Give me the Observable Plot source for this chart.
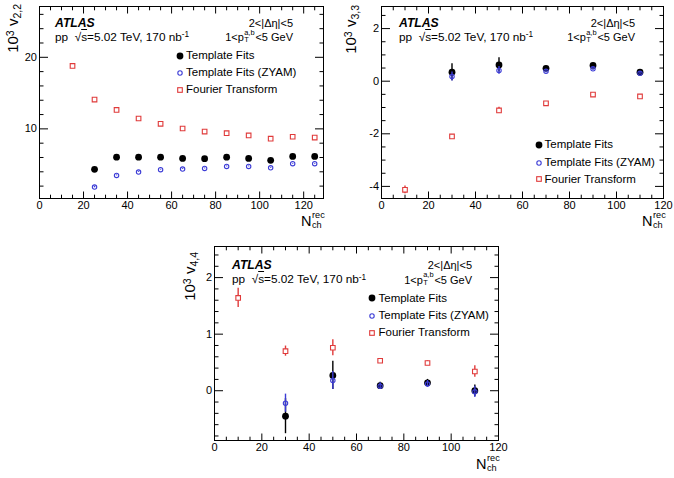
<!DOCTYPE html>
<html><head><meta charset="utf-8">
<script src="https://cdn.jsdelivr.net/npm/d3@7"></script>
<script src="https://cdn.jsdelivr.net/npm/@observablehq/plot@0.6"></script>
<style>
body{margin:0;background:#fff;font-family:"Liberation Sans",Arial,sans-serif;}
#c{position:relative;width:674px;height:478px;overflow:hidden;background:#fff;}
.p{position:absolute;}
.t{position:absolute;white-space:nowrap;color:#000;line-height:1;}
.sup{position:relative;top:-0.42em;font-size:0.7em;}
.sub{position:relative;top:0.3em;font-size:0.7em;}
.stk{display:inline-block;position:relative;height:1em;vertical-align:top;}
.stk .a{position:absolute;left:0.05em;top:-0.45em;font-size:0.68em;line-height:1;}
.stk .b{position:absolute;left:0.05em;top:0.55em;font-size:0.68em;line-height:1;}
.ol{text-decoration:overline;}
</style></head><body><div id="c"></div>
<script>
// ---------------- data ----------------
// v2,2 panel
const nch22FT = [15, 25, 35, 45, 55, 65, 75, 85, 95, 105, 115, 125];
const v22FT   = [18.8, 14.1, 12.65, 11.45, 10.7, 10.05, 9.62, 9.4, 9.08, 8.63, 8.9, 8.78];
const e22FT   = [0.1, 0.08, 0.06, 0.06, 0.06, 0.06, 0.06, 0.06, 0.06, 0.06, 0.06, 0.06];
const nch22TF = [25, 35, 45, 55, 65, 75, 85, 95, 105, 115, 125];
const v22TF   = [4.34, 6.05, 6.05, 6.05, 5.87, 5.83, 6.05, 5.87, 5.6, 6.15, 6.15];
const e22TF   = [0.1, 0.08, 0.08, 0.08, 0.08, 0.08, 0.08, 0.08, 0.08, 0.08, 0.08];
const v22ZY   = [1.87, 3.5, 3.96, 4.3, 4.38, 4.47, 4.75, 4.75, 4.56, 5.13, 5.13];
const e22ZY   = [0.1, 0.06, 0.06, 0.06, 0.06, 0.06, 0.06, 0.06, 0.06, 0.06, 0.06];
// v3,3 panel
const nch33FT = [10, 30, 50, 70, 90, 110];
const v33FT   = [-4.13, -2.1, -1.11, -0.84, -0.51, -0.58];
const e33FT   = [0.15, 0.06, 0.12, 0.05, 0.04, 0.05];
const nch33TF = [30, 50, 70, 90, 110];
const v33TF   = [0.34, 0.62, 0.49, 0.6, 0.34];
const e33TF   = [0.32, 0.27, 0.08, 0.08, 0.07];
const v33ZY   = [0.18, 0.41, 0.38, 0.47, 0.3];
const e33ZY   = [0.17, 0.15, 0.06, 0.06, 0.06];
// v4,4 panel
const nch44FT = [10, 30, 50, 70, 90, 110];
const v44FT   = [1.64, 0.7, 0.76, 0.53, 0.49, 0.34];
const e44FT   = [0.17, 0.09, 0.14, 0.03, 0.04, 0.1];
const nch44TF = [30, 50, 70, 90, 110];
const v44TF   = [-0.45, 0.27, 0.09, 0.14, 0.0];
const e44TF   = [0.31, 0.25, 0.06, 0.06, 0.1];
const v44ZY   = [-0.22, 0.18, 0.08, 0.12, -0.02];
const e44ZY   = [0.16, 0.16, 0.06, 0.06, 0.1];
// tick labels
const xTicks = [0, 20, 40, 60, 80, 100, 120];
const yTicks22 = [10, 20];
const yTicks33 = [-4, -2, 0, 2];
const yTicks44 = [0, 1, 2];
const seriesNames = ["Template Fits", "Template Fits (ZYAM)", "Fourier Transform"];

// ---------------- drawing ----------------
const C = document.getElementById("c");
const COL = {tf: "#000000", zy: "#3c3cd6", ft: "#e03a3a"};
const rows = (ns, vs, es) => ns.map((n, i) => ({n, v: vs[i], e: es[i]}));
const blank = () => "";

function panel(cfg) {
  const {left, top, width, height, mL, mR, mT, mB, xDom, yDom, xMaj, xMin, yMaj, yMin, ft, tf, zy} = cfg;
  const svg = Plot.plot({
    width, height, marginLeft: mL, marginRight: mR, marginTop: mT, marginBottom: mB,
    x: {domain: xDom}, y: {domain: yDom},
    style: {fontFamily: '"Liberation Sans", Arial, sans-serif', fontSize: "11px", color: "#000", background: "transparent", overflow: "visible"},
    marks: [
      Plot.axisX(xMin, {anchor: "bottom", tickSize: -3.3, tickFormat: blank, label: null}),
      Plot.axisX(xMaj, {anchor: "bottom", tickSize: -6.5, tickPadding: 9, tickFormat: d => String(d), label: null}),
      Plot.axisX(xMin, {anchor: "top", tickSize: -3.3, tickFormat: blank, label: null}),
      Plot.axisX(xMaj, {anchor: "top", tickSize: -6.5, tickFormat: blank, label: null}),
      Plot.axisY(yMin, {anchor: "left", tickSize: -4.5, tickFormat: blank, label: null}),
      Plot.axisY(yMaj, {anchor: "left", tickSize: -9, tickPadding: 11.5, tickFormat: d => String(d), label: null}),
      Plot.axisY(yMin, {anchor: "right", tickSize: -4.5, tickFormat: blank, label: null}),
      Plot.axisY(yMaj, {anchor: "right", tickSize: -9, tickFormat: blank, label: null}),
      Plot.frame({stroke: "#000", strokeWidth: 1}),
      Plot.ruleX(ft, {x: "n", y1: d => d.v - d.e, y2: d => d.v + d.e, stroke: COL.ft, strokeWidth: 1.4}),
      Plot.dot(ft, {x: "n", y: "v", symbol: "square", r: 2.6, stroke: COL.ft, strokeWidth: 1.1, fill: "white"}),
      Plot.ruleX(tf, {x: "n", y1: d => d.v - d.e, y2: d => d.v + d.e, stroke: COL.tf, strokeWidth: 1.4}),
      Plot.dot(tf, {x: "n", y: "v", r: 3.4, fill: COL.tf, stroke: "none"}),
      Plot.ruleX(zy, {x: "n", y1: d => d.v - d.e, y2: d => d.v + d.e, stroke: COL.zy, strokeWidth: 1.4}),
      Plot.dot(zy, {x: "n", y: "v", r: 2.2, stroke: COL.zy, strokeWidth: 1.1, fill: "none"})
    ]
  });
  svg.classList.add("p");
  svg.style.left = left + "px";
  svg.style.top = top + "px";
  C.appendChild(svg);
}

function txt(html, x, cy, {size = 10.7, align = "left", bold = false, italic = false} = {}) {
  const d = document.createElement("div");
  d.className = "t";
  d.innerHTML = html;
  d.style.fontSize = size + "px";
  d.style.top = (cy - size / 2) + "px";
  if (align === "left") d.style.left = x + "px"; else d.style.right = (674 - x) + "px";
  if (bold) d.style.fontWeight = "bold";
  if (italic) d.style.fontStyle = "italic";
  C.appendChild(d);
}

function yTitle(html, cx, topEnd, size = 15) {
  const w = 90;
  const d = document.createElement("div");
  d.className = "t";
  d.innerHTML = html;
  d.style.fontSize = size + "px";
  d.style.width = w + "px";
  d.style.height = size + "px";
  d.style.textAlign = "right";
  d.style.transformOrigin = "0 0";
  d.style.transform = "rotate(-90deg)";
  d.style.left = (cx - size / 2) + "px";
  d.style.top = (topEnd + w) + "px";
  C.appendChild(d);
}

function marker(kind, cx, cy) {
  const ns = "http://www.w3.org/2000/svg";
  const s = document.createElementNS(ns, "svg");
  s.setAttribute("width", 12); s.setAttribute("height", 12);
  s.style.position = "absolute"; s.style.left = (cx - 6) + "px"; s.style.top = (cy - 6) + "px";
  let el;
  if (kind === "tf") { el = document.createElementNS(ns, "circle"); el.setAttribute("cx", 6); el.setAttribute("cy", 6); el.setAttribute("r", 3.4); el.setAttribute("fill", COL.tf); }
  else if (kind === "zy") { el = document.createElementNS(ns, "circle"); el.setAttribute("cx", 6); el.setAttribute("cy", 6); el.setAttribute("r", 2.2); el.setAttribute("fill", "none"); el.setAttribute("stroke", COL.zy); el.setAttribute("stroke-width", 1.1); }
  else { el = document.createElementNS(ns, "rect"); el.setAttribute("x", 3.7); el.setAttribute("y", 3.7); el.setAttribute("width", 4.6); el.setAttribute("height", 4.6); el.setAttribute("fill", "white"); el.setAttribute("stroke", COL.ft); el.setAttribute("stroke-width", 1.1); }
  s.appendChild(el);
  C.appendChild(s);
}

function legend(mx, tx, cys) {
  ["tf", "zy", "ft"].forEach((k, i) => {
    marker(k, mx, cys[i]);
    txt(seriesNames[i], tx, cys[i], {size: 11.5});
  });
}

function annotations(lx, rx, cy1, cy2) {
  txt("ATLAS", lx, cy1, {size: 12.2, bold: true, italic: true});
  txt('pp &nbsp;√<span class="ol">s</span>=5.02 TeV, 170 nb<span class="sup">-1</span>', lx, cy2, {size: 11.8});
  txt("2&lt;|Δη|&lt;5", rx, cy1, {size: 11, align: "right"});
  txt('1&lt;p<span class="stk" style="width:1.05em"><span class="a">a,b</span><span class="b">T</span></span>&lt;5 GeV', rx, cy2, {size: 11, align: "right"});
}

// x-axis title N_ch^rec as separate pieces
function xTitle(rightX, cy) {
  const stackW = 12;
  txt("N", rightX - stackW - 0.5, cy, {size: 14.5, align: "right"});
  txt("rec", rightX - stackW, cy - 5.5, {size: 9.2});
  txt("ch", rightX - stackW, cy + 4.5, {size: 9.2});
}

const minorX = (max) => d3.range(0, max + 0.001, 5).filter(v => v % 20 !== 0);

// Panel v2,2
panel({left: 0, top: 0, width: 337, height: 240, mL: 39, mR: 14, mT: 6, mB: 42,
  xDom: [0, 129], yDom: [0.27, 27.1], xMaj: xTicks, xMin: minorX(125),
  yMaj: yTicks22, yMin: d3.range(2, 27, 2).filter(v => v % 10 !== 0),
  ft: rows(nch22FT, v22FT, e22FT), tf: rows(nch22TF, v22TF, e22TF), zy: rows(nch22TF, v22ZY, e22ZY)});
// Panel v3,3
panel({left: 337, top: 0, width: 337, height: 240, mL: 44, mR: 11, mT: 6, mB: 42,
  xDom: [0, 120], yDom: [-4.46, 2.84], xMaj: xTicks, xMin: minorX(120),
  yMaj: yTicks33, yMin: d3.range(-8, 6).map(i => i / 2).filter(v => v % 2 !== 0),
  ft: rows(nch33FT, v33FT, e33FT), tf: rows(nch33TF, v33TF, e33TF), zy: rows(nch33TF, v33ZY, e33ZY)});
// Panel v4,4
panel({left: 170, top: 240, width: 337, height: 238, mL: 44, mR: 9, mT: 6, mB: 38,
  xDom: [0, 120], yDom: [-0.88, 2.55], xMaj: xTicks, xMin: minorX(120),
  yMaj: yTicks44, yMin: d3.range(-4, 13).map(i => i / 5).filter(v => Math.abs(v - Math.round(v)) > 1e-6),
  ft: rows(nch44FT, v44FT, e44FT), tf: rows(nch44TF, v44TF, e44TF), zy: rows(nch44TF, v44ZY, e44ZY)});

// titles & annotations
yTitle('10<span class="sup">3</span> v<span class="sub">2,2</span>', 12, 3.5);
yTitle('10<span class="sup">3</span> v<span class="sub">3,3</span>', 350, 5);
yTitle('10<span class="sup">3</span> v<span class="sub">4,4</span>', 189, 252);
xTitle(324, 221);
xTitle(665, 221);
xTitle(499, 464);
annotations(55, 293, 23, 37.5);
annotations(399, 635, 23, 37.5);
annotations(232, 472, 265, 280);
legend(179.5, 186, [55.7, 72.7, 90]);
legend(538.7, 544.5, [145, 162.7, 179.3]);
legend(372, 378.5, [298.3, 316, 332.7]);
</script></body></html>
